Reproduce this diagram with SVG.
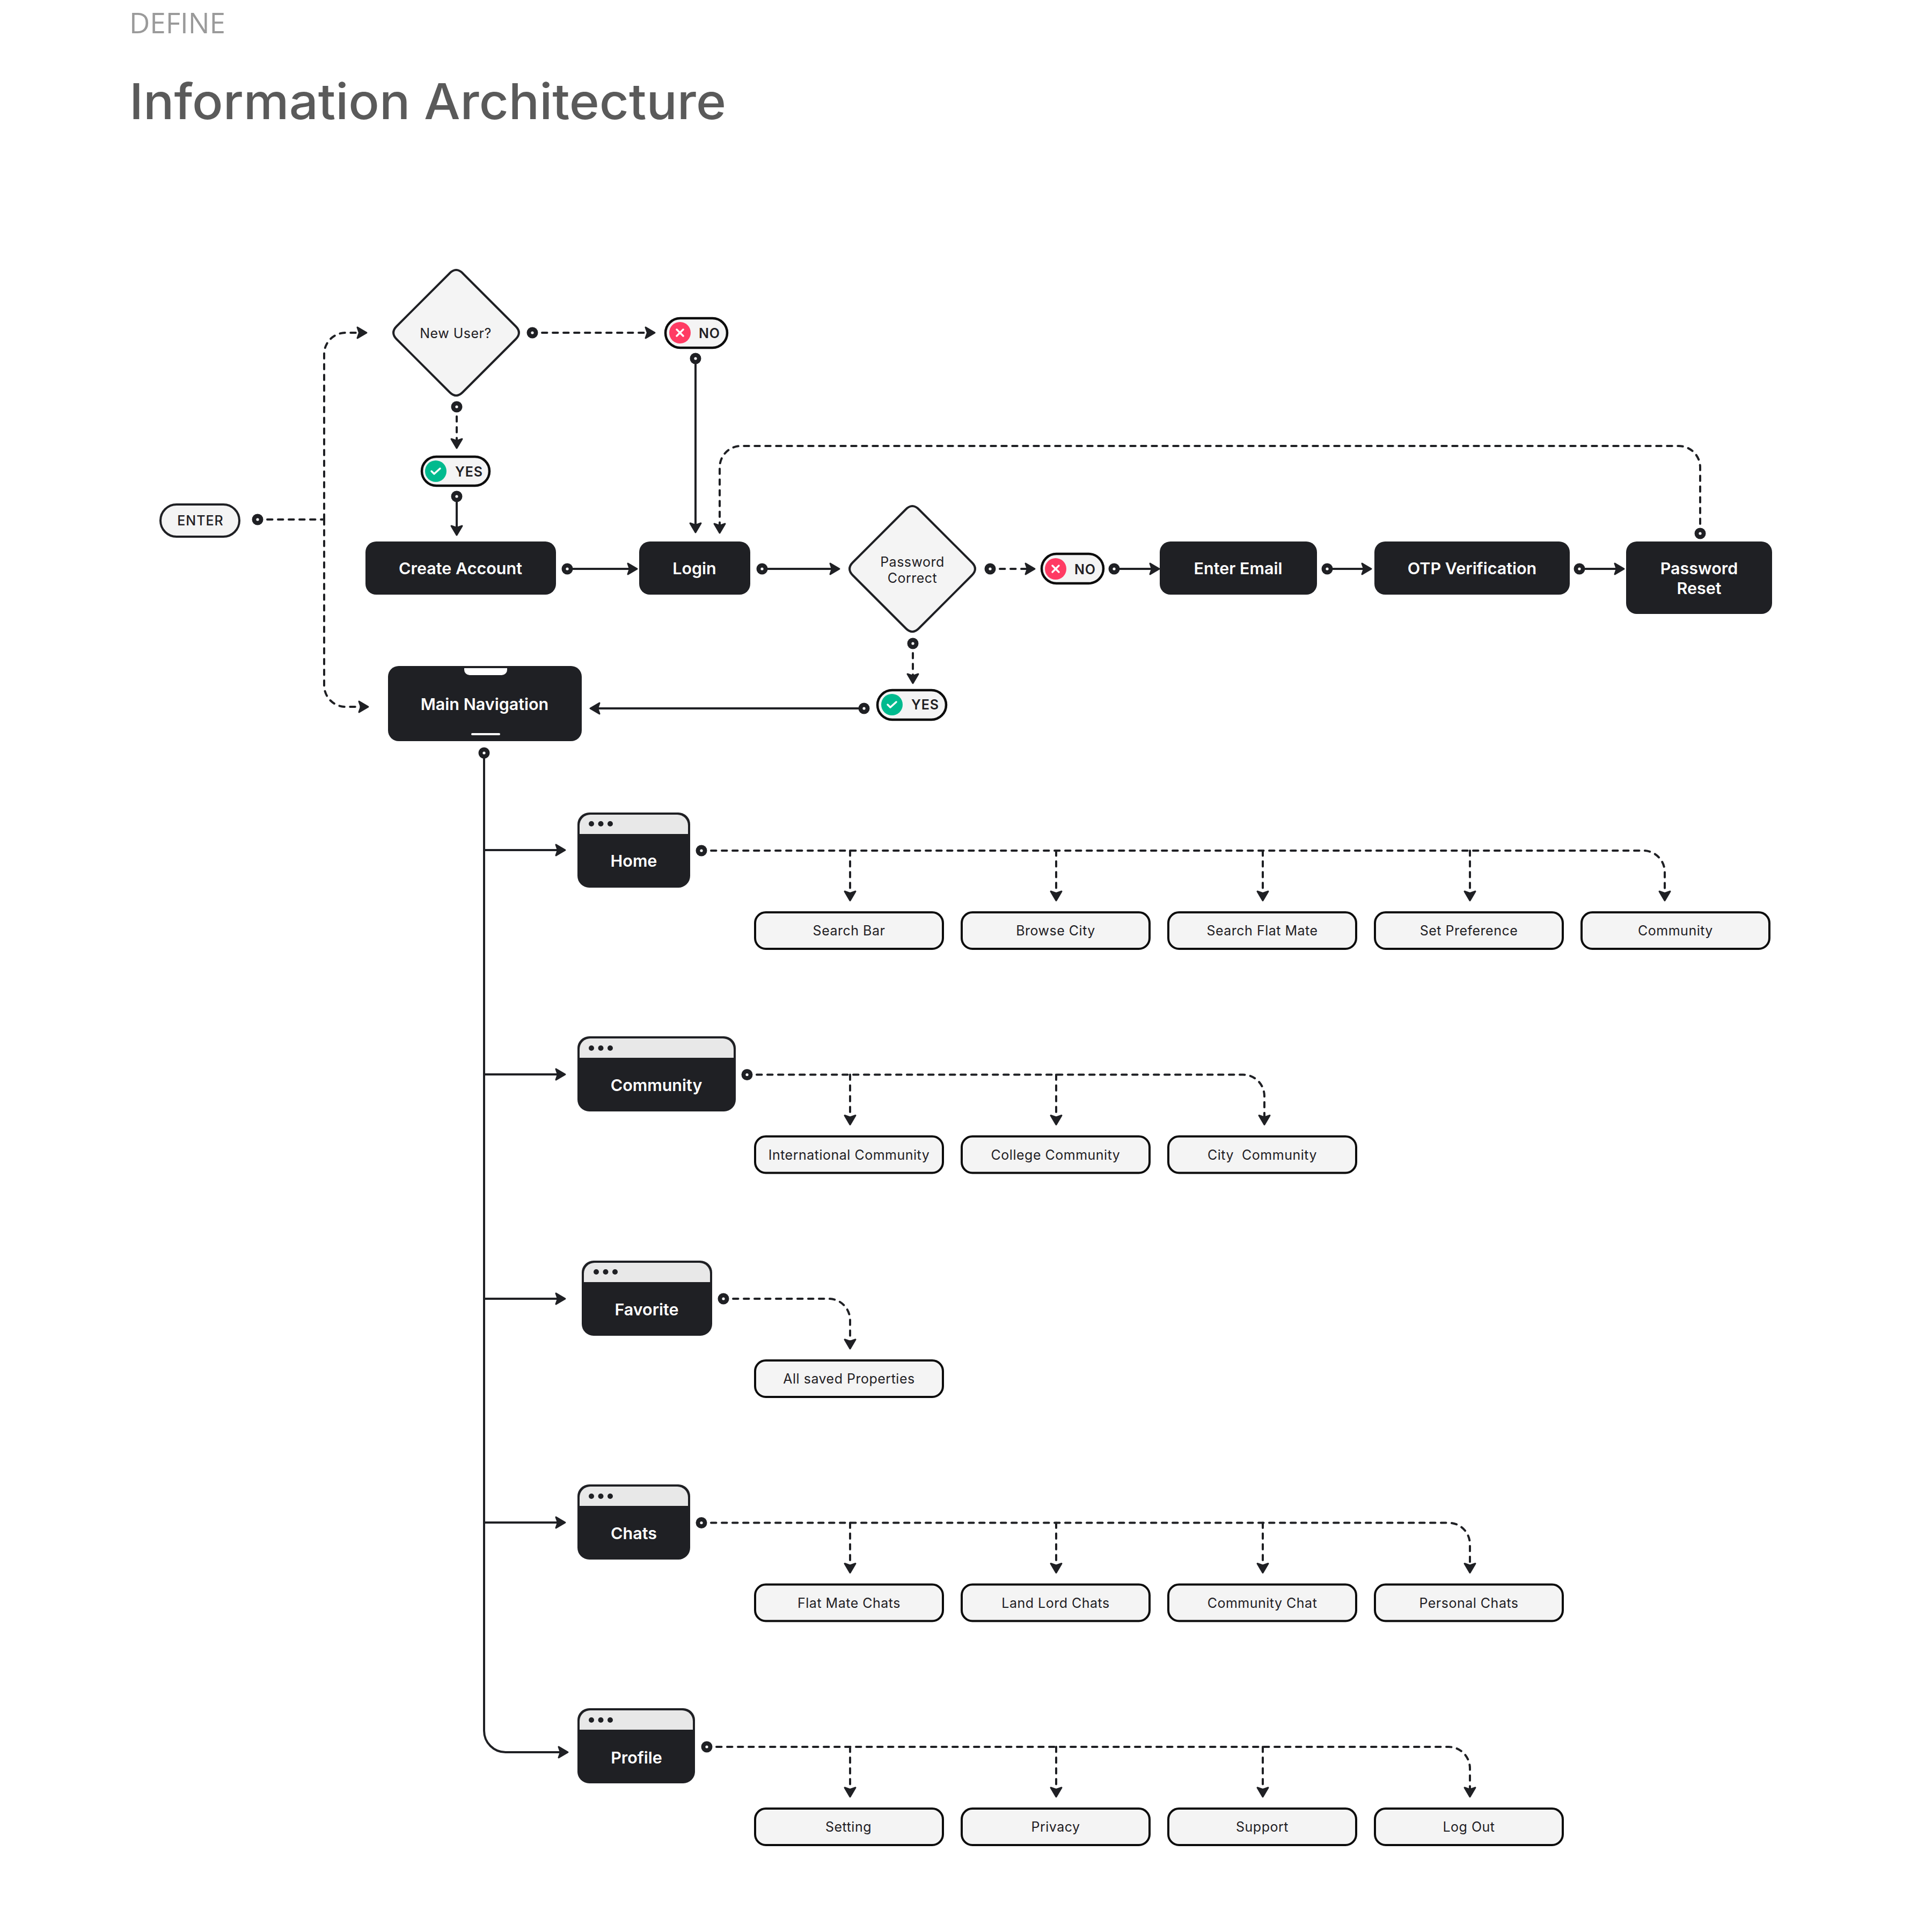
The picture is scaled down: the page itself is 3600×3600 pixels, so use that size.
<svg xmlns="http://www.w3.org/2000/svg" width="3600" height="3600" viewBox="0 0 3600 3600">
<style>
text{font-family:Inter,"Liberation Sans",sans-serif;text-anchor:middle;fill:#1f2024}
.hd{font-family:"Open Sans","Liberation Sans",sans-serif;text-anchor:start;font-size:53px;fill:#9a9a9a;font-weight:400}
.ti{font-family:Inter,"Liberation Sans",sans-serif;text-anchor:start;font-size:92px;fill:#5a5a5a;font-weight:500}
.dark{fill:#1f2024}
.lt{fill:#f4f4f4;stroke:#1f2024;stroke-width:4}
.chip{fill:#f4f4f4;stroke:#0c0c0c;stroke-width:4}
.pill{fill:#f4f4f4;stroke:#0c0c0c;stroke-width:4.5}
.w{fill:#fff;font-size:30.5px;font-weight:600}
.s{font-size:25px;letter-spacing:.5px}
.b{font-size:25px;font-weight:600;letter-spacing:1px}
.hdr{fill:#e8e8e8}
.c{fill:none;stroke:#1f2024;stroke-width:4}
.so{marker-end:url(#arr)}
.da{stroke-dasharray:9.5 10.5;stroke-linecap:round;marker-end:url(#arr)}
.dl{stroke-dasharray:9.5 10.5;stroke-linecap:round}
.ic{fill:none;stroke:#fff;stroke-width:3.5;stroke-linecap:round;stroke-linejoin:round}
</style>
<defs>
<marker id="arr" markerUnits="userSpaceOnUse" markerWidth="30" markerHeight="30" viewBox="-15 -15 30 30" refX="0" refY="0" orient="auto"><path d="M-11,-10 L6,0 L-11,10 L-7.5,0 Z" fill="#1f2024" stroke="#1f2024" stroke-width="3" stroke-linejoin="round"/></marker>
<g id="dot"><circle r="10.5" fill="#1f2024"/><circle r="2.6" fill="#fff"/></g>
<path id="dia" d="M-12,-111 Q0,-123 12,-111 L111,-12 Q123,0 111,12 L12,111 Q0,123 -12,111 L-111,12 Q-123,0 -111,-12 Z" class="lt"/>
<g id="okI"><circle r="20" fill="#00ba8e"/><path class="ic" d="M-8,0 L-3,5 L8,-5"/></g>
<g id="noI"><circle r="20" fill="#ff3b63"/><path class="ic" d="M-6,-6 L6,6 M6,-6 L-6,6"/></g>
<g id="dots"><circle cx="0" r="5" class="dark"/><circle cx="17.5" r="5" class="dark"/><circle cx="35" r="5" class="dark"/></g>
</defs>
<rect width="3600" height="3600" fill="#fff"/>
<text class="hd" x="241" y="62" textLength="179" lengthAdjust="spacingAndGlyphs">DEFINE</text>
<text class="ti" x="241" y="222" textLength="1112" lengthAdjust="spacingAndGlyphs">Information Architecture</text>

<g id="connectors">
<path class="c dl" d="M498,968 H604"/>
<path class="c da" d="M604,968 V660 A40,40 0 0 1 644,620 H677"/>
<path class="c da" d="M604,968 V1277 A40,40 0 0 0 644,1317 H680"/>
<path class="c da" d="M1010,620 H1214"/>
<path class="c da" d="M851,776 V829"/>
<path class="c so" d="M851,934 V991"/>
<path class="c so" d="M1296,677 V986"/>
<path class="c so" d="M1066,1060 H1181"/>
<path class="c so" d="M1429,1060 H1558"/>
<path class="c da" d="M1863,1060 H1922"/>
<path class="c so" d="M2085,1060 H2154"/>
<path class="c so" d="M2482,1060 H2549"/>
<path class="c so" d="M2952,1060 H3020"/>
<path class="c da" d="M3168,976 V871 A40,40 0 0 0 3128,831 H1381 A40,40 0 0 0 1341,871 V987"/>
<path class="c da" d="M1701,1217 V1267"/>
<path class="c so" d="M1601,1320 H1106"/>
<path class="c so" d="M902,1412 V3225 A40,40 0 0 0 942,3265 H1052"/>
<path class="c so" d="M902,1584 H1047"/>
<path class="c so" d="M902,2002 H1047"/>
<path class="c so" d="M902,2420 H1047"/>
<path class="c so" d="M902,2837 H1047"/>
<path class="c da" d="M1325,1585 H3062 A40,40 0 0 1 3102,1625 V1672"/>
<path class="c da" d="M1584,1585 V1672"/>
<path class="c da" d="M1968,1585 V1672"/>
<path class="c da" d="M2353,1585 V1672"/>
<path class="c da" d="M2739,1585 V1672"/>
<path class="c da" d="M1410,2002.5 H2316 A40,40 0 0 1 2356,2042.5 V2089.5"/>
<path class="c da" d="M1584,2002.5 V2089.5"/>
<path class="c da" d="M1968,2002.5 V2089.5"/>
<path class="c da" d="M1366,2420 H1544 A40,40 0 0 1 1584,2460 V2507"/>
<path class="c da" d="M1325,2837.5 H2699 A40,40 0 0 1 2739,2877.5 V2924.5"/>
<path class="c da" d="M1584,2837.5 V2924.5"/>
<path class="c da" d="M1968,2837.5 V2924.5"/>
<path class="c da" d="M2353,2837.5 V2924.5"/>
<path class="c da" d="M1335,3255 H2699 A40,40 0 0 1 2739,3295 V3342"/>
<path class="c da" d="M1584,3255 V3342"/>
<path class="c da" d="M1968,3255 V3342"/>
<path class="c da" d="M2353,3255 V3342"/>
<use href="#dot" x="480" y="968"/>
<use href="#dot" x="992" y="620"/>
<use href="#dot" x="851" y="758"/>
<use href="#dot" x="851" y="925"/>
<use href="#dot" x="1296" y="668"/>
<use href="#dot" x="1057" y="1060"/>
<use href="#dot" x="1420" y="1060"/>
<use href="#dot" x="1845" y="1060"/>
<use href="#dot" x="2076" y="1060"/>
<use href="#dot" x="2473" y="1060"/>
<use href="#dot" x="2943" y="1060"/>
<use href="#dot" x="3168" y="994"/>
<use href="#dot" x="1701" y="1199"/>
<use href="#dot" x="1610" y="1320"/>
<use href="#dot" x="902" y="1403"/>
<use href="#dot" x="1307" y="1585"/>
<use href="#dot" x="1392" y="2002.5"/>
<use href="#dot" x="1348" y="2420"/>
<use href="#dot" x="1307" y="2837.5"/>
<use href="#dot" x="1317" y="3255"/>
</g>

<g id="enter"><rect class="lt" x="299" y="940" width="147" height="60" rx="30"/><text class="b" style="font-weight:500" x="373.5" y="979">ENTER</text></g>
<g id="new-user"><use href="#dia" x="850" y="620"/><text class="s" x="849" y="630">New User?</text></g>
<g id="no-1"><rect class="pill" x="1240" y="593" width="115" height="55" rx="27.5"/><use href="#noI" x="1267" y="620"/><text class="b" x="1322" y="630">NO</text></g>
<g id="yes-1"><rect class="pill" x="786" y="851" width="126" height="54" rx="27"/><use href="#okI" x="812" y="878"/><text class="b" x="874" y="888">YES</text></g>
<g id="create-account"><rect class="dark" x="681" y="1009" width="355" height="99" rx="20"/><text class="w" x="858" y="1070">Create Account</text></g>
<g id="login"><rect class="dark" x="1191" y="1009" width="207" height="99" rx="20"/><text class="w" x="1294" y="1070">Login</text></g>
<g id="password-correct"><use href="#dia" x="1700" y="1060"/><text class="s" x="1700" y="1056">Password</text><text class="s" x="1700" y="1086">Correct</text></g>
<g id="no-2"><rect class="pill" x="1941" y="1032" width="115" height="55" rx="27.5"/><use href="#noI" x="1967" y="1060"/><text class="b" x="2022" y="1070">NO</text></g>
<g id="enter-email"><rect class="dark" x="2161" y="1009" width="293" height="99" rx="20"/><text class="w" x="2307" y="1070">Enter Email</text></g>
<g id="otp"><rect class="dark" x="2561" y="1009" width="364" height="99" rx="20"/><text class="w" x="2743" y="1070">OTP Verification</text></g>
<g id="password-reset"><rect class="dark" x="3030" y="1009" width="272" height="135" rx="20"/><text class="w" x="3166" y="1070">Password</text><text class="w" x="3166" y="1107">Reset</text></g>
<g id="yes-2"><rect class="pill" x="1635" y="1286" width="128" height="55" rx="27.5"/><use href="#okI" x="1662" y="1313"/><text class="b" x="1724" y="1322">YES</text></g>
<g id="main-navigation"><rect class="dark" x="723" y="1241" width="361" height="140" rx="20"/><path d="M865,1245 H945 V1248 A10,10 0 0 1 935,1258 H875 A10,10 0 0 1 865,1248 Z" fill="#fff"/><rect x="878" y="1366" width="54" height="4" rx="2" fill="#fff"/><text class="w" x="903" y="1323">Main Navigation</text></g>

<g id="home"><rect class="dark" x="1076" y="1514" width="210" height="140" rx="22"/><path class="hdr" d="M1080,1554 V1538 A20,20 0 0 1 1100,1518 H1262 A20,20 0 0 1 1282,1538 V1554 Z"/><use href="#dots" x="1102" y="1535"/><text class="w" x="1181" y="1615">Home</text></g>
<g id="community"><rect class="dark" x="1076" y="1931" width="295" height="140" rx="22"/><path class="hdr" d="M1080,1971 V1955 A20,20 0 0 1 1100,1935 H1347 A20,20 0 0 1 1367,1955 V1971 Z"/><use href="#dots" x="1102" y="1953"/><text class="w" x="1223" y="2033">Community</text></g>
<g id="favorite"><rect class="dark" x="1084" y="2349" width="243" height="140" rx="22"/><path class="hdr" d="M1088,2389 V2373 A20,20 0 0 1 1108,2353 H1303 A20,20 0 0 1 1323,2373 V2389 Z"/><use href="#dots" x="1111" y="2370"/><text class="w" x="1205" y="2451">Favorite</text></g>
<g id="chats"><rect class="dark" x="1076" y="2766" width="210" height="140" rx="22"/><path class="hdr" d="M1080,2806 V2790 A20,20 0 0 1 1100,2770 H1262 A20,20 0 0 1 1282,2790 V2806 Z"/><use href="#dots" x="1102" y="2788"/><text class="w" x="1181" y="2868">Chats</text></g>
<g id="profile"><rect class="dark" x="1076" y="3183" width="219" height="140" rx="22"/><path class="hdr" d="M1080,3223 V3207 A20,20 0 0 1 1100,3187 H1271 A20,20 0 0 1 1291,3207 V3223 Z"/><use href="#dots" x="1102" y="3205"/><text class="w" x="1186" y="3286">Profile</text></g>

<g id="search-bar"><rect class="chip" x="1407" y="1700" width="350" height="68" rx="20"/><text class="s" x="1582" y="1743">Search Bar</text></g>
<g id="browse-city"><rect class="chip" x="1792" y="1700" width="350" height="68" rx="20"/><text class="s" x="1967" y="1743">Browse City</text></g>
<g id="search-flat-mate"><rect class="chip" x="2177" y="1700" width="350" height="68" rx="20"/><text class="s" x="2352" y="1743">Search Flat Mate</text></g>
<g id="set-preference"><rect class="chip" x="2562" y="1700" width="350" height="68" rx="20"/><text class="s" x="2737" y="1743">Set Preference</text></g>
<g id="community-chip"><rect class="chip" x="2947" y="1700" width="350" height="68" rx="20"/><text class="s" x="3122" y="1743">Community</text></g>

<g id="international-community"><rect class="chip" x="1407" y="2117.5" width="350" height="68" rx="20"/><text class="s" x="1582" y="2160.5">International Community</text></g>
<g id="college-community"><rect class="chip" x="1792" y="2117.5" width="350" height="68" rx="20"/><text class="s" x="1967" y="2160.5">College Community</text></g>
<g id="city-community"><rect class="chip" x="2177" y="2117.5" width="350" height="68" rx="20"/><text class="s" x="2352" y="2160.5" xml:space="preserve">City  Community</text></g>

<g id="all-saved"><rect class="chip" x="1407" y="2535" width="350" height="68" rx="20"/><text class="s" x="1582" y="2578">All saved Properties</text></g>

<g id="flat-mate-chats"><rect class="chip" x="1407" y="2952.5" width="350" height="68" rx="20"/><text class="s" x="1582" y="2995.5">Flat Mate Chats</text></g>
<g id="land-lord-chats"><rect class="chip" x="1792" y="2952.5" width="350" height="68" rx="20"/><text class="s" x="1967" y="2995.5">Land Lord Chats</text></g>
<g id="community-chat"><rect class="chip" x="2177" y="2952.5" width="350" height="68" rx="20"/><text class="s" x="2352" y="2995.5">Community Chat</text></g>
<g id="personal-chats"><rect class="chip" x="2562" y="2952.5" width="350" height="68" rx="20"/><text class="s" x="2737" y="2995.5">Personal Chats</text></g>

<g id="setting"><rect class="chip" x="1407" y="3370" width="350" height="68" rx="20"/><text class="s" x="1581" y="3413">Setting</text></g>
<g id="privacy"><rect class="chip" x="1792" y="3370" width="350" height="68" rx="20"/><text class="s" x="1967" y="3413">Privacy</text></g>
<g id="support"><rect class="chip" x="2177" y="3370" width="350" height="68" rx="20"/><text class="s" x="2352" y="3413">Support</text></g>
<g id="log-out"><rect class="chip" x="2562" y="3370" width="350" height="68" rx="20"/><text class="s" x="2737" y="3413">Log Out</text></g>
</svg>
